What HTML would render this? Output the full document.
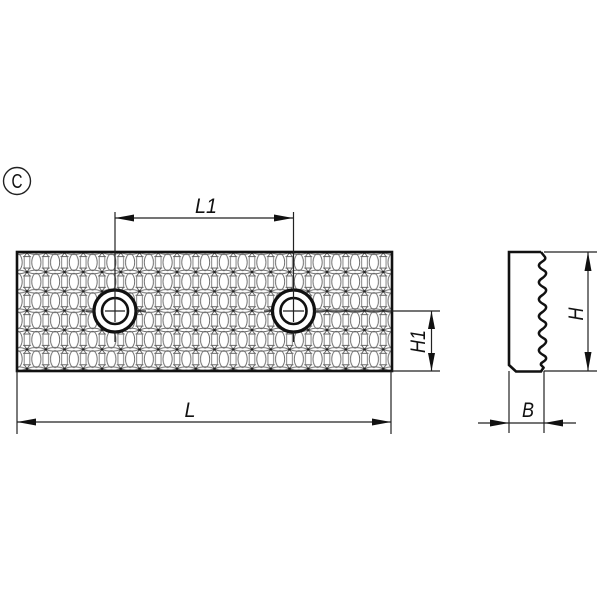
<!DOCTYPE html>
<html><head><meta charset="utf-8"><style>
html,body{margin:0;padding:0;background:#fff}
svg{display:block;filter:blur(0.35px)}
text{font-family:"Liberation Sans",sans-serif;font-style:italic;fill:#111}
</style></head><body>
<svg width="600" height="600" viewBox="0 0 600 600" xmlns="http://www.w3.org/2000/svg">
<defs>
<pattern id="k" patternUnits="userSpaceOnUse" x="17.6" y="252.6" width="18.75" height="19.35">
<g fill="none" stroke="#666" stroke-width="0.9">
<ellipse cx="0" cy="9.7" rx="4.6" ry="8.4"/>
<ellipse cx="18.75" cy="9.7" rx="4.6" ry="8.4"/>
<path d="M5.4 4H13.4M5.4 15.4H13.4" stroke="#555"/>
<path d="M6.6 4V15.4M12.2 4V15.4" stroke="#777"/>
<path d="M9.4 0L6.6 4M9.4 0L12.2 4M9.4 19.35L6.6 15.4M9.4 19.35L12.2 15.4" stroke="#555"/>
<path d="M9.4 19.35Q18.75 15.5 28.1 19.35M-9.4 19.35Q0 15.5 9.4 19.35"/>
<path d="M9.4 0Q18.75 3.8 28.1 0M-9.4 0Q0 3.8 9.4 0"/>
</g>
<circle cx="9.4" cy="0" r="1.3" fill="#222"/>
<circle cx="9.4" cy="19.35" r="1.3" fill="#222"/>
</pattern>
</defs>

<!-- C marker -->
<circle cx="17" cy="181" r="13.5" fill="none" stroke="#222" stroke-width="1.4"/>
<text x="17" y="188" text-anchor="middle" font-size="20" style="font-style:normal" textLength="11" lengthAdjust="spacingAndGlyphs">C</text>

<!-- plate -->
<rect x="17" y="252" width="375" height="119" fill="#fff"/>
<rect x="17" y="252" width="375" height="119" fill="url(#k)"/>
<rect x="17" y="252" width="375" height="119" fill="none" stroke="#111" stroke-width="2.6"/>

<!-- holes -->
<g fill="#fff" stroke="#111">
<circle cx="115" cy="311" r="21" stroke-width="3.2"/>
<circle cx="115" cy="311" r="13" stroke-width="2.6"/>
<circle cx="293.5" cy="311" r="21" stroke-width="3.2"/>
<circle cx="293.5" cy="311" r="13" stroke-width="2.6"/>
</g>
<g stroke="#222" stroke-width="1.2" fill="none">
<line x1="115" y1="212" x2="115" y2="322"/>
<line x1="115" y1="332" x2="115" y2="342"/>
<line x1="105" y1="311" x2="125" y2="311"/>
<line x1="86" y1="311" x2="94" y2="311"/>
<line x1="136" y1="311" x2="146" y2="311"/>
<line x1="293.5" y1="212" x2="293.5" y2="322"/>
<line x1="293.5" y1="332" x2="293.5" y2="342"/>
<line x1="283" y1="311" x2="304" y2="311"/>
<line x1="264" y1="311" x2="272" y2="311"/>
<line x1="315" y1="311" x2="440" y2="311"/>
<line x1="392" y1="371" x2="440" y2="371"/>
<line x1="17" y1="371" x2="17" y2="434"/>
<line x1="391" y1="371" x2="391" y2="434"/>
<line x1="115" y1="218" x2="293" y2="218"/>
<line x1="17" y1="422" x2="391" y2="422"/>
<line x1="431.5" y1="311" x2="431.5" y2="371"/>
<line x1="544" y1="252" x2="597" y2="252"/>
<line x1="544" y1="371" x2="597" y2="371"/>
<line x1="588" y1="252" x2="588" y2="371"/>
<line x1="509" y1="371" x2="509" y2="433"/>
<line x1="544" y1="371" x2="544" y2="433"/>
<line x1="478" y1="423" x2="576" y2="423"/>
</g>

<!-- arrowheads -->
<g fill="#111">
<path d="M115 218L134 214.5V221.5Z"/>
<path d="M293 218L274 214.5V221.5Z"/>
<path d="M17 422L36 418.5V425.5Z"/>
<path d="M391 422L372 418.5V425.5Z"/>
<path d="M431.5 311L428 329H435Z"/>
<path d="M431.5 371L428 353H435Z"/>
<path d="M588 252L584.5 271H591.5Z"/>
<path d="M588 371L584.5 352H591.5Z"/>
<path d="M509 423L490 419.5V426.5Z"/>
<path d="M544 423L563 419.5V426.5Z"/>
</g>

<!-- side profile -->
<path d="M541 252H509V365L516 371.5H541L544 367" fill="none" stroke="#111" stroke-width="2.6"/>
<path d="M541 252L545 257C547 261 538 262 539 266C540 270 547 270 546 274C545 278 538 279 539 283C540 287 547 287 546 291C545 295 538 296 539 300C540 304 547 304 546 308C545 312 538 313 539 317C540 321 547 321 546 325C545 329 538 330 539 334C540 338 547 338 546 342C545 346 538 347 539 351C540 355 547 355 546 359C545 362 540 362 541 365L544 368" fill="none" stroke="#111" stroke-width="2.5"/>

<!-- labels -->
<text x="206" y="213" text-anchor="middle" font-size="21" textLength="22" lengthAdjust="spacingAndGlyphs">L1</text>
<text x="190" y="417" text-anchor="middle" font-size="21" textLength="11" lengthAdjust="spacingAndGlyphs">L</text>
<text x="528" y="417" text-anchor="middle" font-size="21" textLength="12" lengthAdjust="spacingAndGlyphs">B</text>
<text transform="translate(425,341.5) rotate(-90)" text-anchor="middle" font-size="21" textLength="23" lengthAdjust="spacingAndGlyphs">H1</text>
<text transform="translate(583,314) rotate(-90)" text-anchor="middle" font-size="21" textLength="13" lengthAdjust="spacingAndGlyphs">H</text>
</svg>
</body></html>
